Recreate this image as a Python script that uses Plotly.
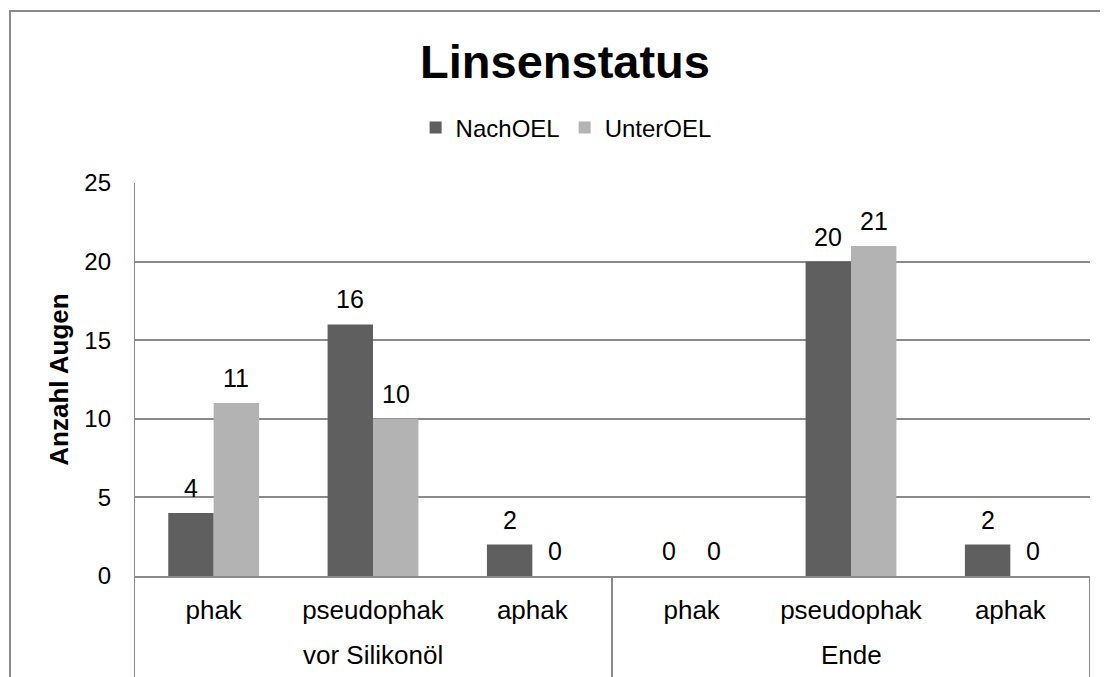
import plotly.graph_objects as go

groups = ["vor Silikonöl", "Ende"]
categories = ["phak", "pseudophak", "aphak", "phak", "pseudophak", "aphak"]
nach_oel = [4, 16, 2, 0, 20, 2]
unter_oel = [11, 10, 0, 0, 21, 0]
series_names = ["NachOEL", "UnterOEL"]
colors = ["#5f5f5f", "#b3b3b3"]
y_ticks = [0, 5, 10, 15, 20, 25]

FONT = "Liberation Sans, Arial, sans-serif"
GRID = "#8a8a8a"
bargap = 0.43
xs = list(range(len(categories)))
w = (1 - bargap) / 2

fig = go.Figure()
for name, vals, col in zip(series_names, [nach_oel, unter_oel], colors):
    fig.add_trace(go.Bar(x=xs, y=vals, name=name, marker=dict(color=col, line=dict(width=0))))

annotations = []
for k, vals in enumerate([nach_oel, unter_oel]):
    off = (-w / 2) if k == 0 else (w / 2)
    for i, v in enumerate(vals):
        annotations.append(dict(x=i + off, y=v, xref="x", yref="y", text=str(v),
                                showarrow=False, yanchor="bottom", yshift=9,
                                font=dict(family=FONT, size=25, color="#000")))
n_per = len(categories) // len(groups)
for g, gname in enumerate(groups):
    annotations.append(dict(x=g * n_per + (n_per - 1) / 2, y=-0.201, xref="x", yref="paper",
                            text=gname, showarrow=False, yanchor="middle",
                            font=dict(family=FONT, size=26, color="#000")))

shapes = []
# dividers
for g in range(len(groups) + 1):
    xpos = g * n_per - 0.5
    shapes.append(dict(type="line", xref="x", yref="paper", x0=xpos, x1=xpos,
                       y0=1 if g == 0 else 0, y1=-0.27, line=dict(color=GRID, width=2)))
# outer frame
shapes.append(dict(type="rect", xref="paper", yref="paper", x0=-0.1297, x1=1.04,
                   y0=-0.35, y1=1.4377, line=dict(color=GRID, width=2)))

fig.update_layout(
    width=1100, height=669,
    margin=dict(l=126, r=18, t=175, b=101),
    paper_bgcolor="white", plot_bgcolor="white",
    barmode="group", bargap=bargap, bargroupgap=0,
    font=dict(family=FONT, color="#000"),
    title=dict(text="<b>Linsenstatus</b>", x=557 / 1100, xref="container", xanchor="center",
               y=1 - 54 / 669, yref="container", yanchor="middle",
               font=dict(family=FONT, size=47, color="#000")),
    legend=dict(orientation="h", x=0.452, xanchor="center", y=1.14, yanchor="middle",
                font=dict(family=FONT, size=24, color="#000"), itemsizing="constant",
                traceorder="normal", itemwidth=30),
    xaxis=dict(range=[-0.5, len(categories) - 0.5], tickmode="array", tickvals=xs,
               ticktext=categories, showline=True, linecolor=GRID, linewidth=2,
               showgrid=False, zeroline=False, ticks="", ticklabelstandoff=10,
               tickfont=dict(family=FONT, size=26, color="#000")),
    yaxis=dict(range=[0, 25], tickmode="array", tickvals=y_ticks, showgrid=True,
               gridcolor=GRID, gridwidth=2, zeroline=False, showline=False, ticks="",
               ticklabelstandoff=22, tickfont=dict(family=FONT, size=24, color="#000"),
               title=dict(text="<b>Anzahl Augen</b>", standoff=8,
                          font=dict(family=FONT, size=26, color="#000"))),
    annotations=annotations, shapes=shapes,
)

fig.write_html("out.html")
